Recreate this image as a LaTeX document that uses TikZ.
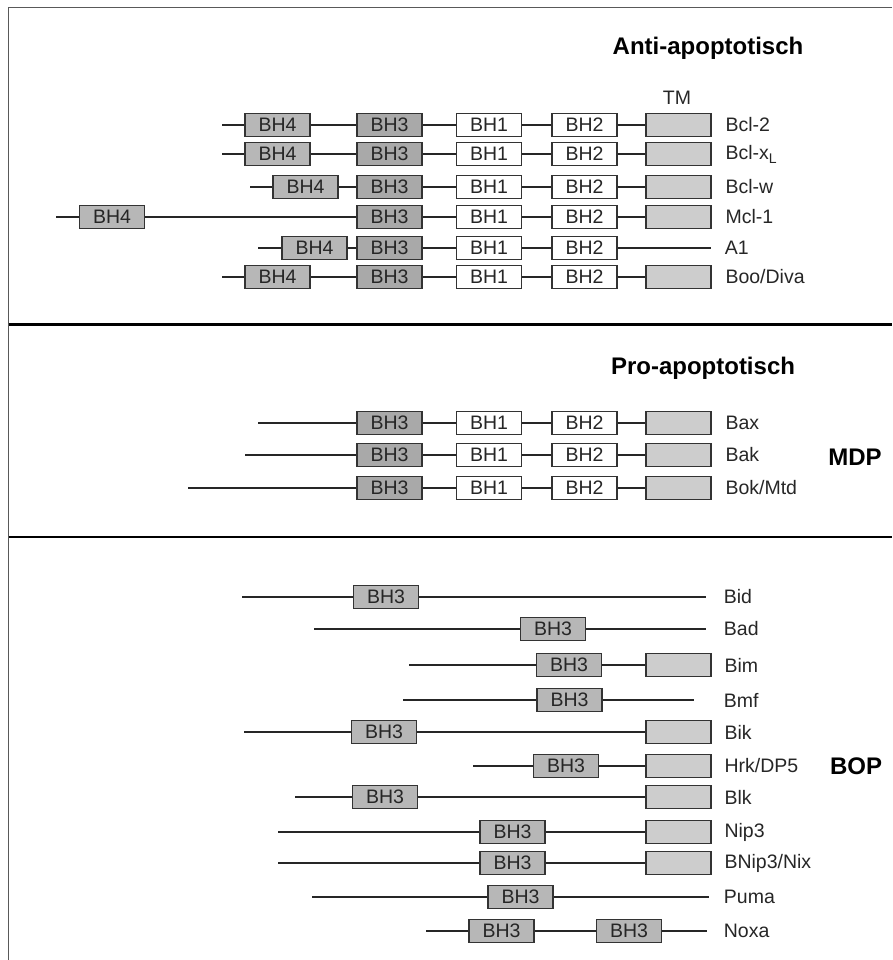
\documentclass[tikz,border=0pt]{standalone}
\usepackage{fontspec}
\setmainfont{Liberation Sans}
\usepackage{tikz}
\usetikzlibrary{positioning}
\definecolor{bhdark}{HTML}{A9A9A9}
\definecolor{bhmid}{HTML}{B7B7B7}
\definecolor{tmgray}{HTML}{CDCDCD}
\tikzset{
    dom/.style={
           rectangle,
           draw=black!80,
           line width=1.2pt,
           minimum width=65pt,
           minimum height=23pt,
           inner sep=0pt,
           text=black!85,
           text centered,
           font=\fontsize{19.5}{19.5}\selectfont,
           },
    bhfour/.style={dom,fill=bhmid},
    bhthree/.style={dom,fill=bhdark},
    bhweak/.style={dom,fill=bhmid},
    bhwhite/.style={dom,fill=white},
    tmbox/.style={dom,fill=tmgray},
    prot/.style={anchor=west,inner sep=0pt,text=black!85,font=\fontsize{19.5}{19.5}\selectfont},
    group/.style={inner sep=0pt,text=black,font=\fontsize{24}{24}\selectfont\bfseries},
}

\begin{document}
\begin{tikzpicture}[x=1pt,y=-1pt,line width=1.8pt,draw=black!85]
\useasboundingbox (0,0) rectangle (892,960);
% frame and separators
\draw[black!65,line width=1.3pt] (892,7.5) -- (8.5,7.5) -- (8.5,960);
\draw[black,line width=3pt] (8.5,324) -- (892,324);
\draw[black,line width=1.5pt] (8.5,537) -- (892,537);

% anti-apoptotic
\node[group](anti) at (708,48) {Anti-apoptotisch};
\node[prot,anchor=center](tm) at (677,98) {TM};

\coordinate (bcl2s) at (222,125);
\node[bhfour](bcl2bh4) at (277.5,125) {BH4};
\node[bhthree](bcl2bh3) at (389.5,125) {BH3};
\node[bhwhite](bcl2bh1) at (489,125) {BH1};
\node[bhwhite](bcl2bh2) at (584.5,125) {BH2};
\node[tmbox](bcl2tm) at (678.5,125) {};
\node[prot,right=13pt of bcl2tm](bcl2) {Bcl-2};
\draw (bcl2s) -- (bcl2bh4) -- (bcl2bh3) -- (bcl2bh1) -- (bcl2bh2) -- (bcl2tm);

\coordinate (bclxs) at (222,154);
\node[bhfour](bclxbh4) at (277.5,154) {BH4};
\node[bhthree](bclxbh3) at (389.5,154) {BH3};
\node[bhwhite](bclxbh1) at (489,154) {BH1};
\node[bhwhite](bclxbh2) at (584.5,154) {BH2};
\node[tmbox](bclxtm) at (678.5,154) {};
\node[prot,right=13pt of bclxtm](bclx) {Bcl-x\raisebox{-4pt}{\fontsize{14}{14}\selectfont L}};
\draw (bclxs) -- (bclxbh4) -- (bclxbh3) -- (bclxbh1) -- (bclxbh2) -- (bclxtm);

\coordinate (bclws) at (250,187);
\node[bhfour](bclwbh4) at (305.5,187) {BH4};
\node[bhthree](bclwbh3) at (389.5,187) {BH3};
\node[bhwhite](bclwbh1) at (489,187) {BH1};
\node[bhwhite](bclwbh2) at (584.5,187) {BH2};
\node[tmbox](bclwtm) at (678.5,187) {};
\node[prot,right=13pt of bclwtm](bclw) {Bcl-w};
\draw (bclws) -- (bclwbh4) -- (bclwbh3) -- (bclwbh1) -- (bclwbh2) -- (bclwtm);

\coordinate (mcl1s) at (56,217);
\node[bhfour](mcl1bh4) at (112,217) {BH4};
\node[bhthree](mcl1bh3) at (389.5,217) {BH3};
\node[bhwhite](mcl1bh1) at (489,217) {BH1};
\node[bhwhite](mcl1bh2) at (584.5,217) {BH2};
\node[tmbox](mcl1tm) at (678.5,217) {};
\node[prot,right=13pt of mcl1tm](mcl1) {Mcl-1};
\draw (mcl1s) -- (mcl1bh4) -- (mcl1bh3) -- (mcl1bh1) -- (mcl1bh2) -- (mcl1tm);

\coordinate (a1s) at (258,248);
\coordinate (a1e) at (711,248);
\node[bhfour](a1bh4) at (314.5,248) {BH4};
\node[bhthree](a1bh3) at (389.5,248) {BH3};
\node[bhwhite](a1bh1) at (489,248) {BH1};
\node[bhwhite](a1bh2) at (584.5,248) {BH2};
\node[prot,right=13pt of a1e](a1) {A1};
\draw (a1s) -- (a1bh4) -- (a1bh3) -- (a1bh1) -- (a1bh2) -- (a1e);

\coordinate (boos) at (222,277);
\node[bhfour](boobh4) at (277.5,277) {BH4};
\node[bhthree](boobh3) at (389.5,277) {BH3};
\node[bhwhite](boobh1) at (489,277) {BH1};
\node[bhwhite](boobh2) at (584.5,277) {BH2};
\node[tmbox](bootm) at (678.5,277) {};
\node[prot,right=13pt of bootm](boo) {Boo/Diva};
\draw (boos) -- (boobh4) -- (boobh3) -- (boobh1) -- (boobh2) -- (bootm);

% pro-apoptotic, multidomain
\node[group](pro) at (703,368) {Pro-apoptotisch};
\node[group](mdp) at (855,457) {MDP};

\coordinate (baxs) at (258,423);
\node[bhthree](baxbh3) at (389.5,423) {BH3};
\node[bhwhite](baxbh1) at (489,423) {BH1};
\node[bhwhite](baxbh2) at (584.5,423) {BH2};
\node[tmbox](baxtm) at (678.5,423) {};
\node[prot,right=13pt of baxtm](bax) {Bax};
\draw (baxs) -- (baxbh3) -- (baxbh1) -- (baxbh2) -- (baxtm);

\coordinate (baks) at (245,455);
\node[bhthree](bakbh3) at (389.5,455) {BH3};
\node[bhwhite](bakbh1) at (489,455) {BH1};
\node[bhwhite](bakbh2) at (584.5,455) {BH2};
\node[tmbox](baktm) at (678.5,455) {};
\node[prot,right=13pt of baktm](bak) {Bak};
\draw (baks) -- (bakbh3) -- (bakbh1) -- (bakbh2) -- (baktm);

\coordinate (boks) at (188,488);
\node[bhthree](bokbh3) at (389.5,488) {BH3};
\node[bhwhite](bokbh1) at (489,488) {BH1};
\node[bhwhite](bokbh2) at (584.5,488) {BH2};
\node[tmbox](boktm) at (678.5,488) {};
\node[prot,right=13pt of boktm](bok) {Bok/Mtd};
\draw (boks) -- (bokbh3) -- (bokbh1) -- (bokbh2) -- (boktm);

% BH3-only
\node[group](bop) at (856,766) {BOP};

\coordinate (bids) at (242,597);
\coordinate (bide) at (706,597);
\node[bhweak](bidbh3) at (386,597) {BH3};
\node[prot,right=17pt of bide](bid) {Bid};
\draw (bids) -- (bidbh3) -- (bide);

\coordinate (bads) at (314,629);
\coordinate (bade) at (706,629);
\node[bhweak](badbh3) at (553,629) {BH3};
\node[prot,right=17pt of bade](bad) {Bad};
\draw (bads) -- (badbh3) -- (bade);

\coordinate (bims) at (409,665);
\node[bhweak](bimbh3) at (569,665) {BH3};
\node[tmbox](bimtm) at (678.5,665) {};
\node[prot,right=12pt of bimtm](bim) {Bim};
\draw (bims) -- (bimbh3) -- (bimtm);

\coordinate (bmfs) at (403,700);
\coordinate (bmfe) at (694,700);
\node[bhweak](bmfbh3) at (569.5,700) {BH3};
\node[prot,right=29pt of bmfe](bmf) {Bmf};
\draw (bmfs) -- (bmfbh3) -- (bmfe);

\coordinate (biks) at (244,732);
\node[bhweak](bikbh3) at (384,732) {BH3};
\node[tmbox](biktm) at (678.5,732) {};
\node[prot,right=12pt of biktm](bik) {Bik};
\draw (biks) -- (bikbh3) -- (biktm);

\coordinate (hrks) at (473,766);
\node[bhweak](hrkbh3) at (566,766) {BH3};
\node[tmbox](hrktm) at (678.5,766) {};
\node[prot,right=12pt of hrktm](hrk) {Hrk/DP5};
\draw (hrks) -- (hrkbh3) -- (hrktm);

\coordinate (blks) at (295,797);
\node[bhweak](blkbh3) at (385,797) {BH3};
\node[tmbox](blktm) at (678.5,797) {};
\node[prot,right=12pt of blktm](blk) {Blk};
\draw (blks) -- (blkbh3) -- (blktm);

\coordinate (nip3s) at (278,832);
\node[bhweak](nip3bh3) at (512.5,832) {BH3};
\node[tmbox](nip3tm) at (678.5,832) {};
\node[prot,right=12pt of nip3tm](nip3) {Nip3};
\draw (nip3s) -- (nip3bh3) -- (nip3tm);

\coordinate (bnips) at (278,863);
\node[bhweak](bnipbh3) at (512.5,863) {BH3};
\node[tmbox](bniptm) at (678.5,863) {};
\node[prot,right=12pt of bniptm](bnip) {BNip3/Nix};
\draw (bnips) -- (bnipbh3) -- (bniptm);

\coordinate (pumas) at (312,897);
\coordinate (pumae) at (709,897);
\node[bhweak](pumabh3) at (520.5,897) {BH3};
\node[prot,right=14pt of pumae](puma) {Puma};
\draw (pumas) -- (pumabh3) -- (pumae);

\coordinate (noxas) at (426,931);
\coordinate (noxae) at (707,931);
\node[bhweak](noxabh3a) at (501.5,931) {BH3};
\node[bhweak](noxabh3b) at (629,931) {BH3};
\node[prot,right=16pt of noxae](noxa) {Noxa};
\draw (noxas) -- (noxabh3a) -- (noxabh3b) -- (noxae);
\end{tikzpicture}
\end{document}
